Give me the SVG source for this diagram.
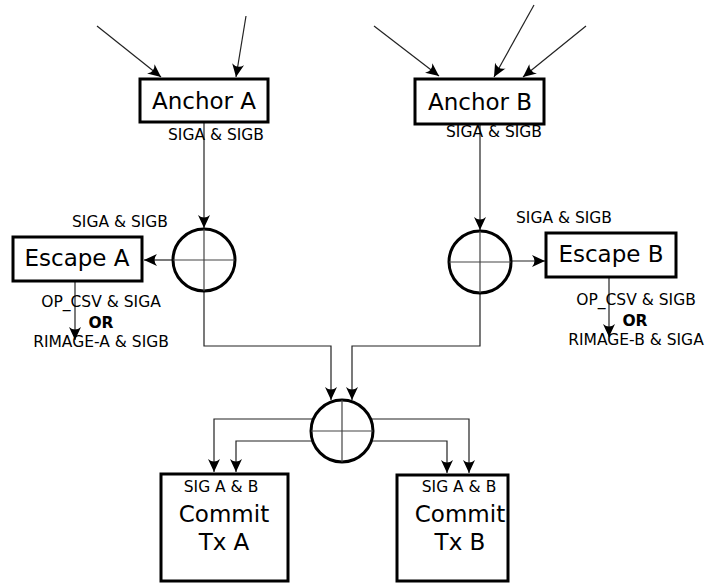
<svg xmlns="http://www.w3.org/2000/svg" width="707" height="583" viewBox="0 0 707 583">
<style>
.box{fill:#fff;stroke:#000;stroke-width:3}
.circ{fill:none;stroke:#000;stroke-width:3}
.cross{stroke:#444;stroke-width:1.2;fill:none}
.con{fill:none;stroke:#222;stroke-width:1.2}
.big{font-family:"DejaVu Sans",sans-serif;font-size:23px;fill:#000;text-anchor:middle}
.sm{font-family:"DejaVu Sans",sans-serif;font-size:15.5px;fill:#000;text-anchor:middle}
.bold{font-family:"DejaVu Sans",sans-serif;font-size:15.5px;font-weight:bold;fill:#000;text-anchor:middle}
</style>
<defs>
<marker id="ah" markerUnits="userSpaceOnUse" markerWidth="16" markerHeight="14" viewBox="-14 -7 16 14" refX="0" refY="0" orient="auto">
<path d="M0,0 L-13,-6 Q-8,0 -13,6 Z" fill="#000"/>
</marker>
</defs>
<rect width="707" height="583" fill="#fff"/>
<g id="connectors">
<line class="con" x1="97" y1="26" x2="161" y2="77" marker-end="url(#ah)"/>
<line class="con" x1="246" y1="16" x2="236" y2="77" marker-end="url(#ah)"/>
<line class="con" x1="374" y1="26" x2="439" y2="76" marker-end="url(#ah)"/>
<line class="con" x1="534" y1="5" x2="494" y2="77" marker-end="url(#ah)"/>
<line class="con" x1="586" y1="26" x2="523" y2="77" marker-end="url(#ah)"/>
<line class="con" x1="204" y1="122" x2="204" y2="228" marker-end="url(#ah)"/>
<line class="con" x1="480" y1="124" x2="480" y2="230" marker-end="url(#ah)"/>
<line class="con" x1="173" y1="260" x2="144" y2="260" marker-end="url(#ah)"/>
<line class="con" x1="511" y1="261" x2="545" y2="261" marker-end="url(#ah)"/>
<line class="con" x1="75" y1="281" x2="75" y2="340" marker-end="url(#ah)"/>
<line class="con" x1="609" y1="277" x2="609" y2="337" marker-end="url(#ah)"/>
<polyline class="con" points="204,291 204,346 331,346 331,400" marker-end="url(#ah)"/>
<polyline class="con" points="480,293 480,346 352,346 352,400" marker-end="url(#ah)"/>
<polyline class="con" points="312,419 214,419 214,472" marker-end="url(#ah)"/>
<polyline class="con" points="313,441 236,441 236,472" marker-end="url(#ah)"/>
<polyline class="con" points="372,419 469,419 469,473" marker-end="url(#ah)"/>
<polyline class="con" points="371,441 447,441 447,473" marker-end="url(#ah)"/>
</g>
<g id="anchorA">
<rect class="box" x="140" y="79" width="128" height="43"/>
<text class="big" x="204" y="109">Anchor A</text>
<text class="sm" x="216" y="140">SIGA &amp; SIGB</text>
</g>
<g id="anchorB">
<rect class="box" x="415" y="79" width="129" height="45"/>
<text class="big" x="480" y="110">Anchor B</text>
<text class="sm" x="494" y="137">SIGA &amp; SIGB</text>
</g>
<g id="mixA">
<circle class="circ" cx="204" cy="260" r="31"/>
<line class="cross" x1="173" y1="260" x2="235" y2="260"/>
<line class="cross" x1="204" y1="229" x2="204" y2="291"/>
</g>
<g id="mixB">
<circle class="circ" cx="480" cy="262" r="31"/>
<line class="cross" x1="449" y1="262" x2="511" y2="262"/>
<line class="cross" x1="480" y1="231" x2="480" y2="293"/>
</g>
<g id="mixC">
<circle class="circ" cx="342" cy="431" r="31"/>
<line class="cross" x1="311" y1="431" x2="373" y2="431"/>
<line class="cross" x1="342" y1="400" x2="342" y2="462"/>
</g>
<g id="escapeA">
<rect class="box" x="13" y="237" width="129" height="44"/>
<text class="big" x="77" y="266">Escape A</text>
<text class="sm" x="120" y="227">SIGA &amp; SIGB</text>
<text class="sm" x="101" y="307">OP_CSV &amp; SIGA</text>
<text class="bold" x="101" y="328">OR</text>
<text class="sm" x="101" y="347">RIMAGE-A &amp; SIGB</text>
</g>
<g id="escapeB">
<rect class="box" x="546" y="233" width="130" height="44"/>
<text class="big" x="611" y="262">Escape B</text>
<text class="sm" x="564" y="223">SIGA &amp; SIGB</text>
<text class="sm" x="636" y="305">OP_CSV &amp; SIGB</text>
<text class="bold" x="635" y="326">OR</text>
<text class="sm" x="636" y="345">RIMAGE-B &amp; SIGA</text>
</g>
<g id="commitA">
<rect class="box" x="161" y="474" width="127" height="107"/>
<text class="sm" x="221" y="492">SIG A &amp; B</text>
<text class="big" x="224" y="522">Commit</text>
<text class="big" x="224" y="550">Tx A</text>
</g>
<g id="commitB">
<rect class="box" x="397" y="475" width="111" height="106"/>
<text class="sm" x="459" y="492">SIG A &amp; B</text>
<text class="big" x="460" y="522">Commit</text>
<text class="big" x="460" y="550">Tx B</text>
</g>
</svg>
